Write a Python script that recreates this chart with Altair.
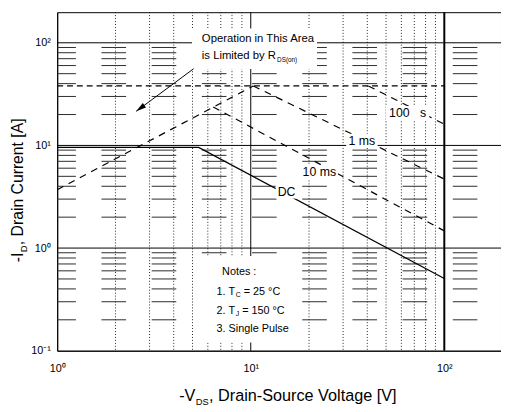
import altair as alt
import pandas as pd

# ---------------- data ----------------
dc_v = [1.0, 5.38, 100.0]
dc_i = [9.57, 9.57, 0.505]
rds_v = [1.0, 10.3]
rds_i = [3.7, 38.0]
limit_v = [1.0, 100.0]
limit_i = [38.0, 38.0]
p100us_v = [40.5, 100.0]
p100us_i = [38.0, 16.1]
p1ms_v = [10.3, 100.0]
p1ms_i = [38.0, 4.7]
p10ms_v = [6.4, 100.0]
p10ms_i = [23.7, 1.47]

x_grid_minor = [2, 3, 4, 5, 6, 7, 8, 9, 20, 30, 40, 50, 60, 70, 80, 90]
x_grid_major = [10]
x_grid_bold = [100]
y_grid_minor = [0.2, 0.3, 0.4, 0.5, 0.6, 0.7, 0.8, 0.9,
                2, 3, 4, 5, 6, 7, 8, 9,
                20, 30, 40, 50, 60, 70, 80, 90]
y_grid_major = [1, 10, 100]
x_tick_values = [1, 10, 100]
y_tick_values = [0.1, 1, 10, 100]

curve_labels = ["100\u00a0\u00a0\u00a0s", "1 ms", "10 ms", "DC"]
curve_label_v = [64.6, 37.5, 22.6, 15.3]
curve_label_i = [20.7, 11.1, 5.5, 3.54]
curve_label_box_w = [44, 32, 38, 22]

# annotation anchors (data coordinates)
ann_box = dict(v=[4.97], v2=[22.0], i=[55.6], i2=[137.5])
notes_box = dict(v=[5.46], v2=[17.0], i=[0.12], i2=[0.838])
arrow_v = [5.07, 2.56]
arrow_i = [55.9, 21.5]
arrow_head = dict(v=[2.72], i=[23.4])

FONT = "Liberation Sans"
LABEL_EXPR = ("datum.value < 0.5 ? '10\u207b\u00b9' : datum.value < 5 ? '10\u2070' : "
              "datum.value < 50 ? '10\u00b9' : '10\u00b2'")

# Arial / Liberation Sans advance widths (em)
AW = {'-': .333, 'I': .278, 'D': .722, ',': .278, ' ': .278, 'r': .333, 'a': .556,
      'i': .222, 'n': .556, 'C': .722, 'u': .556, 'e': .556, 't': .278, '[': .278,
      'A': .667, ']': .278, 'V': .667, 'S': .667, 'o': .556, 'c': .5, 'g': .556,
      'l': .222, 'y': .5, 'b': .556, 'T': .611, 'h': .556, 's': .5, 'p': .556,
      'm': .833, 'd': .556, '(': .333, ')': .333, 'R': .722, '.': .278, '=': .584,
      'J': .5, 'L': .556, '\u00b0': .4}


def tw(s, fs):
    return sum(AW.get(c, 0.556) for c in s) * fs


xs = alt.Scale(type="log", domain=[1, 196.3], nice=False)
ys = alt.Scale(type="log", domain=[0.1, 198.6], nice=False)
xaxis = alt.Axis(values=x_tick_values, labelExpr=LABEL_EXPR, grid=False, ticks=False,
                 domainColor="black", labelFontSize=11, labelFont=FONT,
                 labelColor="black", labelPadding=12, title=None, labelFlush=False)
yaxis = alt.Axis(values=y_tick_values, labelExpr=LABEL_EXPR, grid=False, ticks=False,
                 domainColor="black", labelFontSize=11, labelFont=FONT,
                 labelColor="black", labelPadding=7, title=None, labelFlush=False)
X = alt.X("v:Q", scale=xs, axis=xaxis)
Y = alt.Y("i:Q", scale=ys, axis=yaxis)


def curve(v, i, dash=None, width=1.2):
    kw = dict(color="black", strokeWidth=width)
    if dash:
        kw["strokeDash"] = dash
    return alt.Chart(pd.DataFrame({"v": v, "i": i})).mark_line(**kw).encode(x=X, y=Y)


def dtext(v, i, text, size, dx=0, dy=0, align="left", baseline="middle"):
    return alt.Chart(pd.DataFrame({"v": [v], "i": [i], "t": [text]})).mark_text(
        font=FONT, fontSize=size, dx=dx, dy=dy, align=align, baseline=baseline,
        color="black").encode(x=X, y=Y, text="t:N")


def ptext(px, py, text, size, dx=0, dy=0, angle=0, align="left", baseline="alphabetic"):
    return alt.Chart(pd.DataFrame({"t": [text]})).mark_text(
        font=FONT, fontSize=size, dx=dx, dy=dy, angle=angle, align=align,
        baseline=baseline, color="black").encode(
        x=alt.value(px), y=alt.value(py), text="t:N")


layers = []
# grid
layers.append(alt.Chart(pd.DataFrame({"i": y_grid_minor})).mark_rule(
    color="#2a2a2a", strokeWidth=1, strokeDash=[25, 26], strokeDashOffset=27).encode(y=Y))
layers.append(alt.Chart(pd.DataFrame({"v": x_grid_minor})).mark_rule(
    color="#222222", strokeWidth=1, strokeDash=[1, 2]).encode(x=X))
layers.append(alt.Chart(pd.DataFrame({"i": y_grid_major})).mark_rule(
    color="black", strokeWidth=1).encode(y=Y))
layers.append(alt.Chart(pd.DataFrame({"v": x_grid_major})).mark_rule(
    color="black", strokeWidth=1).encode(x=X))
layers.append(alt.Chart(pd.DataFrame({"v": x_grid_bold})).mark_rule(
    color="black", strokeWidth=2).encode(x=X))

# curves
layers.append(curve(limit_v, limit_i, dash=[6, 4]))
layers.append(curve(rds_v, rds_i, dash=[7, 6]))
layers.append(curve(p100us_v, p100us_i, dash=[7, 6]))
layers.append(curve(p1ms_v, p1ms_i, dash=[7, 6]))
layers.append(curve(p10ms_v, p10ms_i, dash=[7, 6]))
layers.append(curve(dc_v, dc_i, width=1.3))

# white boxes
for box in (ann_box, notes_box):
    layers.append(alt.Chart(pd.DataFrame(box)).mark_rect(color="white").encode(
        x=X, x2="v2:Q", y=Y, y2="i2:Q"))
for lab, v, i, w in zip(curve_labels, curve_label_v, curve_label_i, curve_label_box_w):
    h = 14.0 / w
    path = f"M-1,-{h:.3f}H1V{h:.3f}H-1Z"
    layers.append(alt.Chart(pd.DataFrame({"v": [v], "i": [i]})).mark_point(
        shape=path, size=w * w, filled=True, color="white", opacity=1,
        strokeWidth=0).encode(x=X, y=Y))
    layers.append(dtext(v, i, lab, 12.5, align="center"))

# annotation: RDS(on) limit
FS_A = 11.5
layers.append(dtext(5.59, 108.4, "Operation in This Area", FS_A))
layers.append(dtext(5.59, 73.6, "is Limited by R", FS_A))
layers.append(dtext(5.59, 73.6, "DS(on)", 6.5, dx=tw("is Limited by R", FS_A) + 1, dy=4))
layers.append(alt.Chart(pd.DataFrame({"v": arrow_v, "i": arrow_i})).mark_line(
    color="black", strokeWidth=1).encode(x=X, y=Y))
layers.append(alt.Chart(pd.DataFrame(arrow_head)).mark_point(
    shape="M0,-1L0.42,0.6L-0.42,0.6Z", size=169, angle=233.4, filled=True,
    color="black", opacity=1, strokeWidth=0).encode(x=X, y=Y))

# notes
FS_N = 11
layers.append(dtext(8.72, 0.589, "Notes :", FS_N, align="center"))
layers.append(dtext(6.66, 0.371, "1. T", FS_N))
layers.append(dtext(6.66, 0.371, "C", 7, dx=tw("1. T", FS_N) + 0.5, dy=3))
layers.append(dtext(6.66, 0.371, "= 25 \u00b0C", FS_N,
                    dx=tw("1. T", FS_N) + tw("C", 7) + tw(" ", FS_N) + 0.5))
layers.append(dtext(6.66, 0.243, "2. T", FS_N))
layers.append(dtext(6.66, 0.243, "J", 7, dx=tw("2. T", FS_N) + 0.5, dy=3))
layers.append(dtext(6.66, 0.243, "= 150 \u00b0C", FS_N,
                    dx=tw("2. T", FS_N) + tw("J", 7) + tw(" ", FS_N) + 0.5))
layers.append(dtext(6.66, 0.163, "3. Single Pulse", FS_N))

# axis titles (pieces, for subscripts)
FS_T = 16
FS_S = 9.5
ytx, yty = -34.5, 254
layers.append(ptext(ytx, yty, "-I", FS_T, angle=270))
layers.append(ptext(ytx, yty, "D", FS_S, dx=tw("-I", FS_T) + 0.3, dy=4, angle=270))
layers.append(ptext(ytx, yty, ", Drain Current [A]", FS_T,
                    dx=tw("-I", FS_T) + tw("D", FS_S) + 0.6, angle=270))
xtx, xty = 124, 395
layers.append(ptext(xtx, xty, "-V", 16.5))
layers.append(ptext(xtx, xty, "DS", FS_S, dx=tw("-V", 16.5) + 0.3, dy=4))
layers.append(ptext(xtx, xty, ", Drain-Source Voltage [V]", 16.5,
                    dx=tw("-V", 16.5) + tw("DS", FS_S) + 0.6))

chart = alt.layer(*layers).properties(
    width=451, height=344,
    autosize=alt.AutoSizeParams(type="none"),
    padding={"left": 50, "top": 1, "right": 0, "bottom": 58},
    background="white",
).configure_view(stroke="black", strokeWidth=1)

chart.save("out.html", embed_options={"renderer": "svg", "actions": False})
